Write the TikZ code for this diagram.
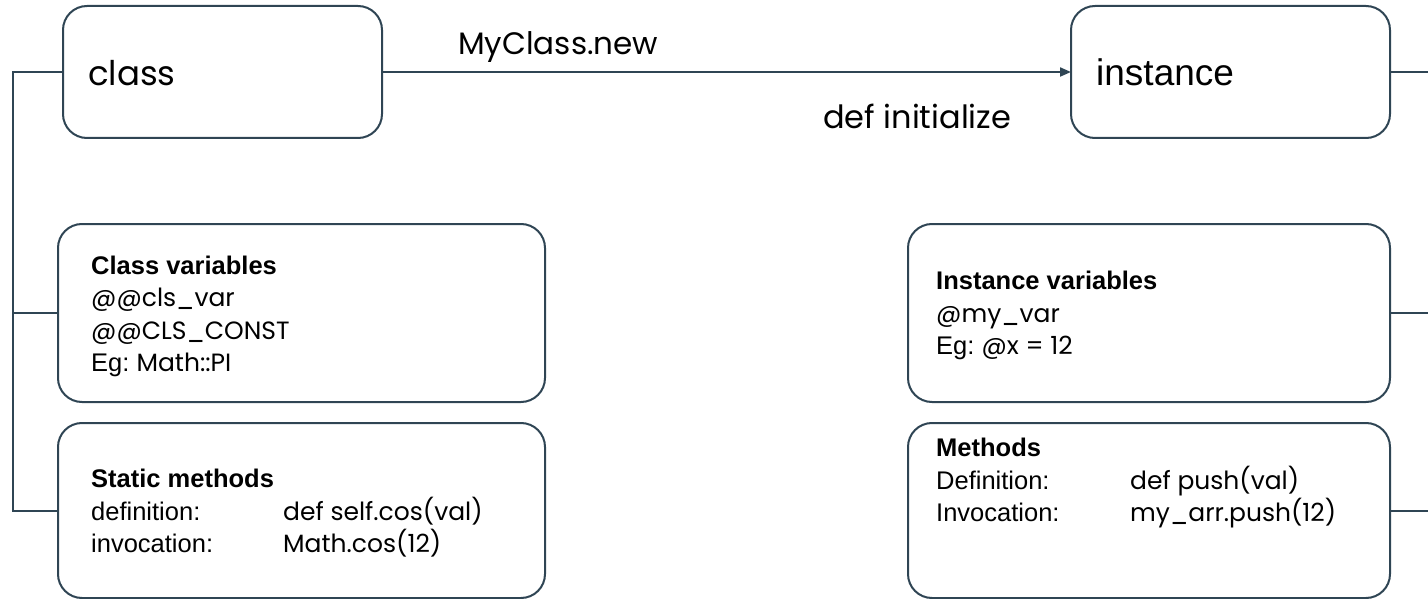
\documentclass[tikz,border=0pt]{standalone}
\usepackage{fontspec}
\setmainfont{Poppins}
\newfontfamily\arialf{Liberation Sans}
\usetikzlibrary{arrows.meta}
\definecolor{lc}{RGB}{47,69,84}
\begin{document}
\begin{tikzpicture}[x=1pt,y=-1pt,
  box/.style={draw=lc, line width=2pt, rounded corners=24pt, inner sep=0pt, outer sep=0pt},
  conn/.style={draw=lc, line width=2pt},
  mtext/.style={inner sep=0pt, anchor=base west, font=\fontsize{25}{30}\selectfont},
  atext/.style={inner sep=0pt, anchor=base west, font=\arialf\fontsize{25.5}{30}\selectfont},
  htext/.style={inner sep=0pt, anchor=base west, font=\arialf\bfseries\fontsize{25.5}{30}\selectfont},
  big/.style={inner sep=0pt, anchor=base west, font=\fontsize{31}{36}\selectfont}]
\useasboundingbox (0,0) rectangle (1428,599);
% boxes
\node[box, minimum width=319pt, minimum height=132pt] (class) at (222.5,72) {};
\node[box, minimum width=319pt, minimum height=132pt] (instance) at (1230.5,72) {};
\node[box, minimum width=487pt, minimum height=178pt] (cv) at (301.5,313) {};
\node[box, minimum width=487pt, minimum height=175pt] (sm) at (301.5,510.5) {};
\node[box, minimum width=482pt, minimum height=178pt] (iv) at (1149,313) {};
\node[box, minimum width=482pt, minimum height=175pt] (me) at (1149,510.5) {};
% box titles
\node[big, font=\fontsize{34}{38}\selectfont] (classt) at (88,86) {class};
\node[big, font=\arialf\fontsize{37}{40}\selectfont] (instt) at (1096,86) {instance};
% connectors
\coordinate (spineTop) at (13,72);
\coordinate (rightEdge) at (1428,0);
\draw[conn] (class.west) -- (spineTop) |- (sm.west);
\draw[conn] (cv.west) -- (cv.west -| spineTop);
\draw[conn, -{Triangle[length=11pt,width=9pt]}] (class.east) -- (instance.west);
\draw[conn] (instance.east) -- (instance.east -| rightEdge);
\draw[conn] (iv.east) -- (iv.east -| rightEdge);
\draw[conn] (me.east) -- (me.east -| rightEdge);
% arrow labels
\node[big] (lnew) at (458,55) {MyClass.new};
\node[big, font=\fontsize{32}{36}\selectfont] (linit) at (823,129) {def initialize};
% class variables
\node[htext] (cv1) at (91,274) {Class variables};
\node[mtext] (cv2) at (91,306.5) {@@cls\_var};
\node[mtext] (cv3) at (91,339) {@@CLS\_CONST};
\node[atext] (cv4) at (91,371) {Eg:};
\node[mtext] (cv4b) at (cv4.base east) [anchor=base west] {\ Math::PI};
% static methods
\node[htext] (sm1) at (91,487) {Static methods};
\node[atext] (sm2) at (91,520) {definition:};
\node[mtext] (sm2b) at (283,520) {def self.cos(val)};
\node[atext] (sm3) at (91,552) {invocation:};
\node[mtext] (sm3b) at (283,552) {Math.cos(12)};
% instance variables
\node[htext] (iv1) at (936,289) {Instance variables};
\node[mtext] (iv2) at (936,322) {@my\_var};
\node[atext] (iv3) at (936,354) {Eg:};
\node[mtext] (iv3b) at (iv3.base east) [anchor=base west] {\ @x = 12};
% methods
\node[htext] (me1) at (936,456) {Methods};
\node[atext] (me2) at (936,489) {Definition:};
\node[mtext] (me2b) at (1130,489) {def push(val)};
\node[atext] (me3) at (936,521) {Invocation:};
\node[mtext] (me3b) at (1130,521) {my\_arr.push(12)};
\end{tikzpicture}
\end{document}
